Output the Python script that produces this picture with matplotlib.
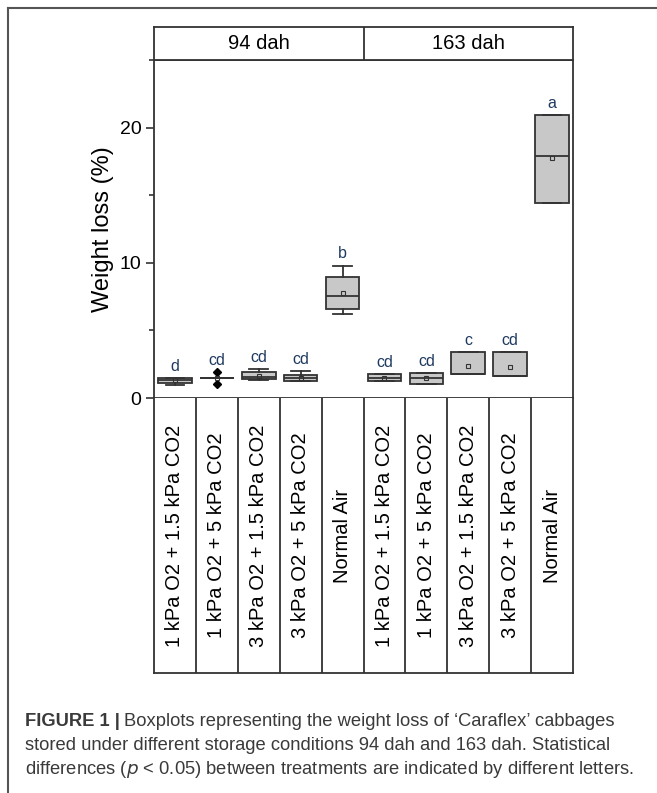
import matplotlib.pyplot as plt
from matplotlib.lines import Line2D

plt.rcParams["font.family"] = ["Liberation Sans", "DejaVu Sans"]

# data
days = ["94 dah", "163 dah"]
treatments = [
    "1 kPa O2 + 1.5 kPa CO2",
    "1 kPa O2 + 5 kPa CO2",
    "3 kPa O2 + 1.5 kPa CO2",
    "3 kPa O2 + 5 kPa CO2",
    "Normal Air",
]
q1 = [1.10, 1.45, 1.40, 1.25, 6.60, 1.25, 1.00, 1.80, 1.65, 14.40]
med = [1.30, 1.45, 1.55, 1.45, 7.55, 1.50, 1.45, 1.80, 1.65, 17.90]
q3 = [1.50, 1.45, 1.90, 1.70, 8.95, 1.75, 1.83, 3.40, 3.40, 20.95]
whislo = [0.95, 1.45, 1.30, 1.25, 6.20, 1.25, 1.00, 1.80, 1.65, 14.40]
whishi = [1.50, 1.45, 2.15, 2.00, 9.80, 1.75, 1.83, 3.40, 3.40, 20.95]
means = [1.30, 1.45, 1.60, 1.45, 7.80, 1.50, 1.45, 2.37, 2.27, 17.75]
fliers = [[], [1.9, 1.0], [], [], [], [], [], [], [], []]
letters = ["d", "cd", "cd", "cd", "b", "cd", "cd", "c", "cd", "a"]

labels = treatments * len(days)
n = len(labels)

W, H = 657, 793
fig = plt.figure(figsize=(W / 100, H / 100), dpi=100)

x0, x1 = 154, 573
y_head, y_top, y_zero, y_bot = 27, 60, 398, 673

def frac(left, top, right, bottom):
    return [left / W, 1 - bottom / H, (right - left) / W, (bottom - top) / H]

edge = "#333333"

ax = fig.add_axes(frac(x0, y_top, x1, y_zero))
stats = []
for i in range(n):
    stats.append(dict(q1=q1[i], med=med[i], q3=q3[i], whislo=whislo[i],
                      whishi=whishi[i], mean=means[i], fliers=fliers[i]))
ax.bxp(stats, positions=range(n), widths=0.8, patch_artist=True,
       showmeans=True, showcaps=True,
       boxprops=dict(facecolor="#c8c8c8", edgecolor=edge, linewidth=1.3),
       medianprops=dict(color=edge, linewidth=1.3),
       whiskerprops=dict(color=edge, linewidth=1.3),
       capprops=dict(color=edge, linewidth=1.3),
       capwidths=0.45,
       meanprops=dict(marker="s", markersize=3.5, markerfacecolor="none",
                      markeredgecolor=edge, markeredgewidth=0.8),
       flierprops=dict(marker="D", markersize=4, markerfacecolor="black",
                       markeredgecolor="black"))

for i in range(n):
    top = max([whishi[i], q3[i]] + fliers[i])
    ax.annotate(letters[i], (i, top), xytext=(0, 3), textcoords="offset points",
                ha="center", va="bottom", fontsize=11.5, color="#1f3a60")

ax.set_xlim(-0.5, n - 0.5)
ax.set_ylim(0, 25)
ax.set_yticks([0, 10, 20])
ax.set_yticks([5, 15, 25], minor=True)
ax.tick_params(axis="y", which="major", length=6, width=1.2, color=edge,
               labelsize=14, pad=3)
ax.tick_params(axis="y", which="minor", length=3.5, width=1.2, color=edge)
ax.set_xticks([])
ax.set_ylabel("Weight loss (%)", fontsize=17, labelpad=4)
for s in ax.spines.values():
    s.set_color(edge)
    s.set_linewidth(1.3)

# header strip with the day labels
hax = fig.add_axes(frac(x0, y_head, x1, y_top))
hax.set_xlim(-0.5, n - 0.5)
hax.set_ylim(0, 1)
hax.set_xticks([])
hax.set_yticks([])
per = len(treatments)
for k, d in enumerate(days):
    hax.text(k * per + (per - 1) / 2, 0.5, d, ha="center", va="center",
             fontsize=14.5)
    if k > 0:
        hax.axvline(k * per - 0.5, color=edge, lw=1.3)
for s in hax.spines.values():
    s.set_color(edge)
    s.set_linewidth(1.3)

# label strip below the plot
lax = fig.add_axes(frac(x0, y_zero, x1, y_bot))
lax.set_xlim(-0.5, n - 0.5)
lax.set_ylim(0, 1)
lax.set_xticks([])
lax.set_yticks([])
for i, lab in enumerate(labels):
    lax.text(i, 0.5, lab, rotation=90, ha="center", va="center", fontsize=14.5)
    if i > 0:
        lax.axvline(i - 0.5, color=edge, lw=1.3)
for s in lax.spines.values():
    s.set_color(edge)
    s.set_linewidth(1.3)
lax.spines["top"].set_visible(False)

# outer frame lines
fig.add_artist(Line2D([8 / W, 1], [1 - 8 / H, 1 - 8 / H], color="#555555",
                      lw=1.5, transform=fig.transFigure))
fig.add_artist(Line2D([8 / W, 8 / W], [1 - 8 / H, 0], color="#555555",
                      lw=1.5, transform=fig.transFigure))

# caption
cap_x = 25 / W
cap_color = "#3a3a3a"
cap_size = 13.2
t = fig.text(cap_x, 1 - 721 / H, "FIGURE 1 |", fontsize=cap_size, fontweight="bold",
             color=cap_color, va="center")
fig.canvas.draw()
bb = t.get_window_extent()
fig.text(bb.x1 / W + 4 / W, 1 - 721 / H,
         "Boxplots representing the weight loss of \u2018Caraflex\u2019 cabbages",
         fontsize=cap_size, color=cap_color, va="center")
fig.text(cap_x, 1 - 746 / H,
         "stored under different storage conditions 94 dah and 163 dah. Statistical",
         fontsize=cap_size, color=cap_color, va="center")
fig.text(cap_x, 1 - 770 / H,
         "differences ($p$ < 0.05) between treatments are indicated by different letters.",
         fontsize=cap_size, color=cap_color, va="center")

fig.savefig("out.png", dpi=100)
